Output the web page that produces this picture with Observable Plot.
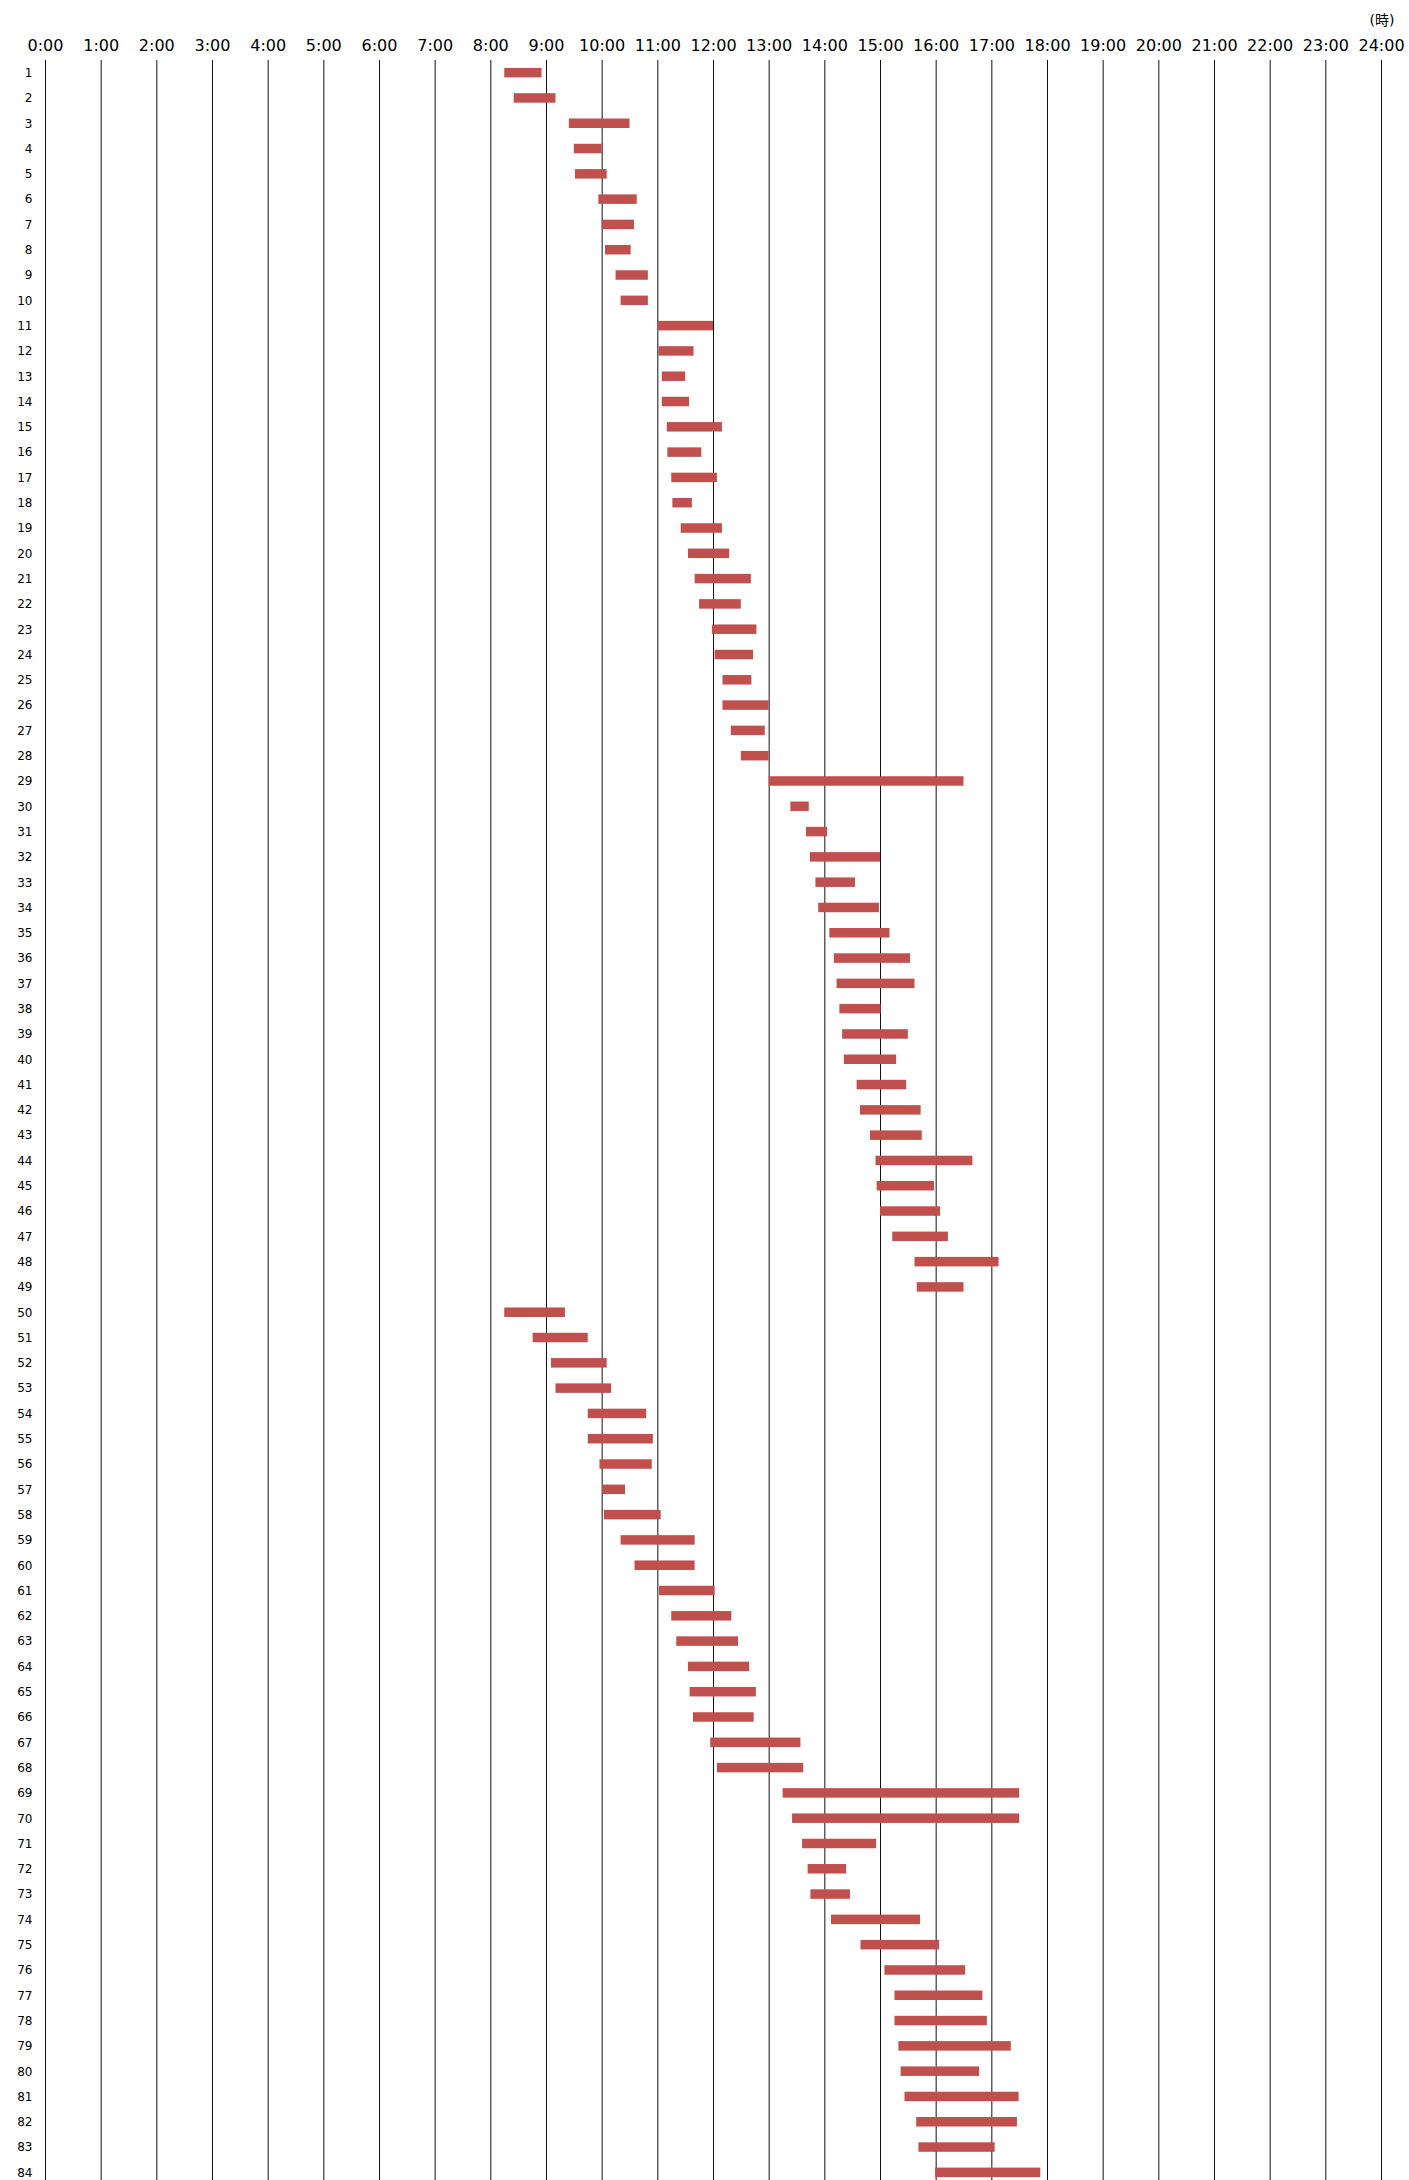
<!DOCTYPE html>
<html><head><meta charset="utf-8">
<script src="https://cdn.jsdelivr.net/npm/d3@7"></script>
<script src="https://cdn.jsdelivr.net/npm/@observablehq/plot@0.6"></script>
<style>
html,body{margin:0;padding:0;background:#fff;overflow:hidden;}
#chart{position:relative;width:1409px;height:2180px;overflow:hidden;}
#chart svg{display:block;}
#unit{position:absolute;left:1357px;top:9px;width:50px;text-align:center;font:14px "DejaVu Sans","Noto Sans CJK JP",sans-serif;color:#000;}
</style></head><body><div id="chart"><div id="unit">(時)</div></div>
<script>
const ids = [1,2,3,4,5,6,7,8,9,10,11,12,13,14,15,16,17,18,19,20,21,22,23,24,25,26,27,28,29,30,
  31,32,33,34,35,36,37,38,39,40,41,42,43,44,45,46,47,48,49,50,51,52,53,54,55,56,57,58,59,60,
  61,62,63,64,65,66,67,68,69,70,71,72,73,74,75,76,77,78,79,80,81,82,83,84];
const startHours = [8.25,8.42,9.41,9.50,9.52,9.94,10.00,10.06,10.25,10.34,
  11.00,11.02,11.08,11.08,11.17,11.18,11.25,11.27,11.42,11.55,
  11.67,11.75,11.98,12.03,12.17,12.17,12.32,12.50,13.00,13.39,
  13.67,13.74,13.84,13.89,14.09,14.17,14.22,14.27,14.32,14.35,
  14.58,14.64,14.82,14.92,14.94,15.00,15.22,15.62,15.66,8.25,
  8.76,9.09,9.17,9.75,9.75,9.96,10.01,10.04,10.34,10.59,
  11.03,11.25,11.34,11.55,11.58,11.64,11.95,12.07,13.25,13.42,
  13.60,13.70,13.75,14.12,14.65,15.08,15.26,15.26,15.33,15.37,
  15.44,15.65,15.69,15.99];
const endHours = [8.92,9.17,10.50,10.00,10.09,10.63,10.58,10.52,10.83,10.83,
  12.00,11.65,11.50,11.57,12.16,11.79,12.07,11.62,12.16,12.29,
  12.68,12.50,12.78,12.72,12.69,13.00,12.93,13.00,16.50,13.72,
  14.05,15.00,14.55,14.98,15.17,15.54,15.62,15.01,15.50,15.29,
  15.47,15.73,15.75,16.66,15.97,16.08,16.22,17.13,16.50,9.34,
  9.75,10.09,10.17,10.80,10.92,10.90,10.42,11.06,11.67,11.67,
  12.03,12.33,12.45,12.65,12.77,12.73,13.57,13.62,17.50,17.50,
  14.93,14.39,14.46,15.72,16.06,16.53,16.84,16.92,17.35,16.78,
  17.49,17.46,17.06,17.88];
const hourTicks = [0,1,2,3,4,5,6,7,8,9,10,11,12,13,14,15,16,17,18,19,20,21,22,23,24];

const data = ids.map((id, i) => ({id, start: startHours[i], end: endHours[i]}));

const plot = Plot.plot({
  width: 1409,
  height: 2185,
  marginTop: 60,
  marginLeft: 45,
  marginRight: 28,
  marginBottom: 0,
  style: {fontFamily: "DejaVu Sans", background: "#fff", overflow: "visible"},
  x: {domain: [0, 24], axis: null},
  y: {domain: ids, padding: 0, round: false, axis: null, label: null},
  marks: [
    Plot.ruleX(hourTicks, {x: d => d, stroke: "#111", strokeWidth: 1}),
    Plot.barX(data, {x1: "start", x2: "end", y: "id", fill: "#C0504D", insetTop: 7.9, insetBottom: 7.9}),
    Plot.text(hourTicks, {x: d => d, frameAnchor: "top", dy: -15, lineAnchor: "middle", text: d => d + ":00", fontSize: 16, fill: "#000"}),
    Plot.axisY({tickSize: 0, tickPadding: 13, fontSize: 12, fill: "#000", label: null})
  ]
});
document.getElementById("chart").appendChild(plot);
</script>
</body></html>
